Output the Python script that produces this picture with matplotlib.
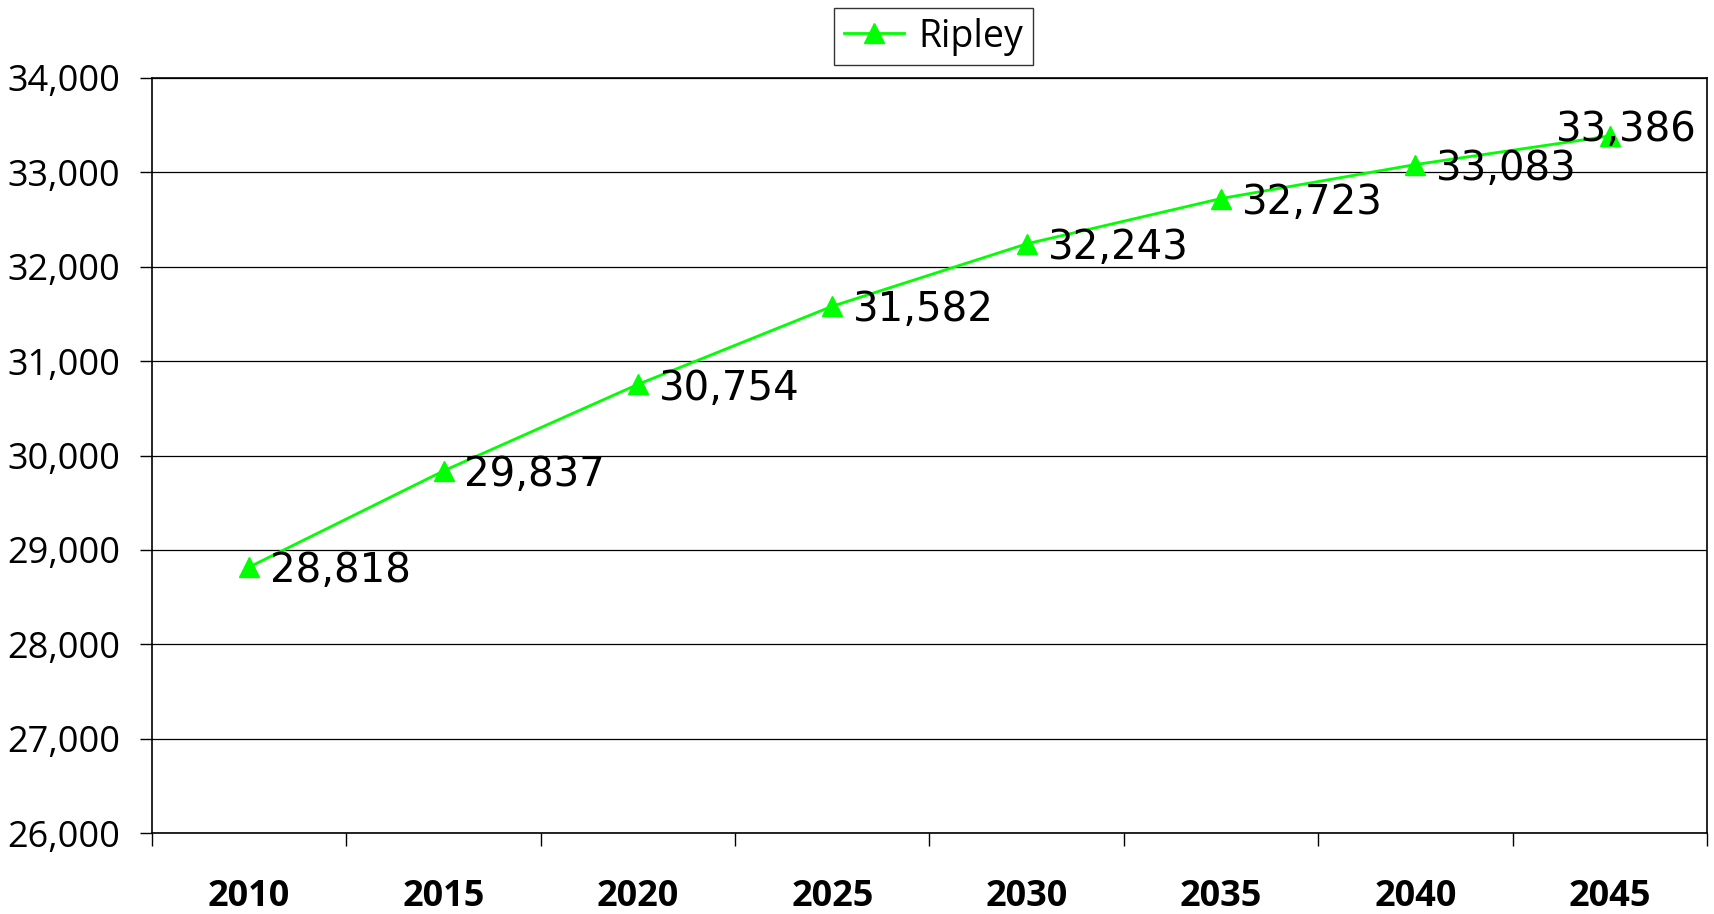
import numpy as np
import matplotlib.pyplot as plt
from matplotlib.ticker import FuncFormatter, MultipleLocator

# datos
years = ["2010", "2015", "2020", "2025", "2030", "2035", "2040", "2045"]
ripley = [28818, 29837, 30754, 31582, 32243, 32723, 33083, 33386]

plt.rcParams['font.family'] = ['Open Sans', 'DejaVu Sans']

fig = plt.figure(figsize=(17.15, 9.14), dpi=100)
ax = fig.add_axes([152/1715, 1 - 833/914, (1707 - 152)/1715, (833 - 78)/914])

x = np.arange(len(years))
ax.plot(x, ripley, color='#00FF00', lw=2.0, marker='^', ms=14,
        mec='#00FF00', mfc='#00FF00', label='Ripley', zorder=3)

# etiquetas de datos
for i, v in enumerate(ripley):
    txt = f"{v:,}"
    if i == len(ripley) - 1:
        off = (-39, 4)
    else:
        off = (15, -3)
    ax.annotate(txt, (x[i], v), xytext=off, textcoords='offset points',
                ha='left', va='center', fontsize=29, family='DejaVu Sans',
                zorder=4)

ax.set_xlim(-0.5, len(years) - 0.5)
ax.set_ylim(26000, 34000)
ax.yaxis.set_major_locator(MultipleLocator(1000))
ax.yaxis.set_major_formatter(FuncFormatter(lambda v, p: f"{int(v):,}"))
ax.grid(axis='y', color='black', lw=0.9)
ax.set_axisbelow(True)

ax.set_xticks(x)
ax.set_xticklabels(years, fontsize=26, fontweight='bold')
ax.set_xticks(np.arange(len(years) + 1) - 0.5, minor=True)
ax.tick_params(axis='x', which='major', length=0, pad=33)
ax.tick_params(axis='x', which='minor', length=9, width=1.0, direction='out')
ax.tick_params(axis='y', labelsize=26, length=9, width=1.0, pad=14)

for s in ax.spines.values():
    s.set_linewidth(1.2)
    s.set_color('black')

leg = fig.legend(loc='center', bbox_to_anchor=(933.5/1715, 1 - 36.5/914),
                 fontsize=27, handlelength=1.6, frameon=True, fancybox=False,
                 borderpad=0.25, handletextpad=0.4)
leg.get_frame().set_edgecolor('black')
leg.get_frame().set_linewidth(1.0)

fig.savefig('out.png', dpi=100)
